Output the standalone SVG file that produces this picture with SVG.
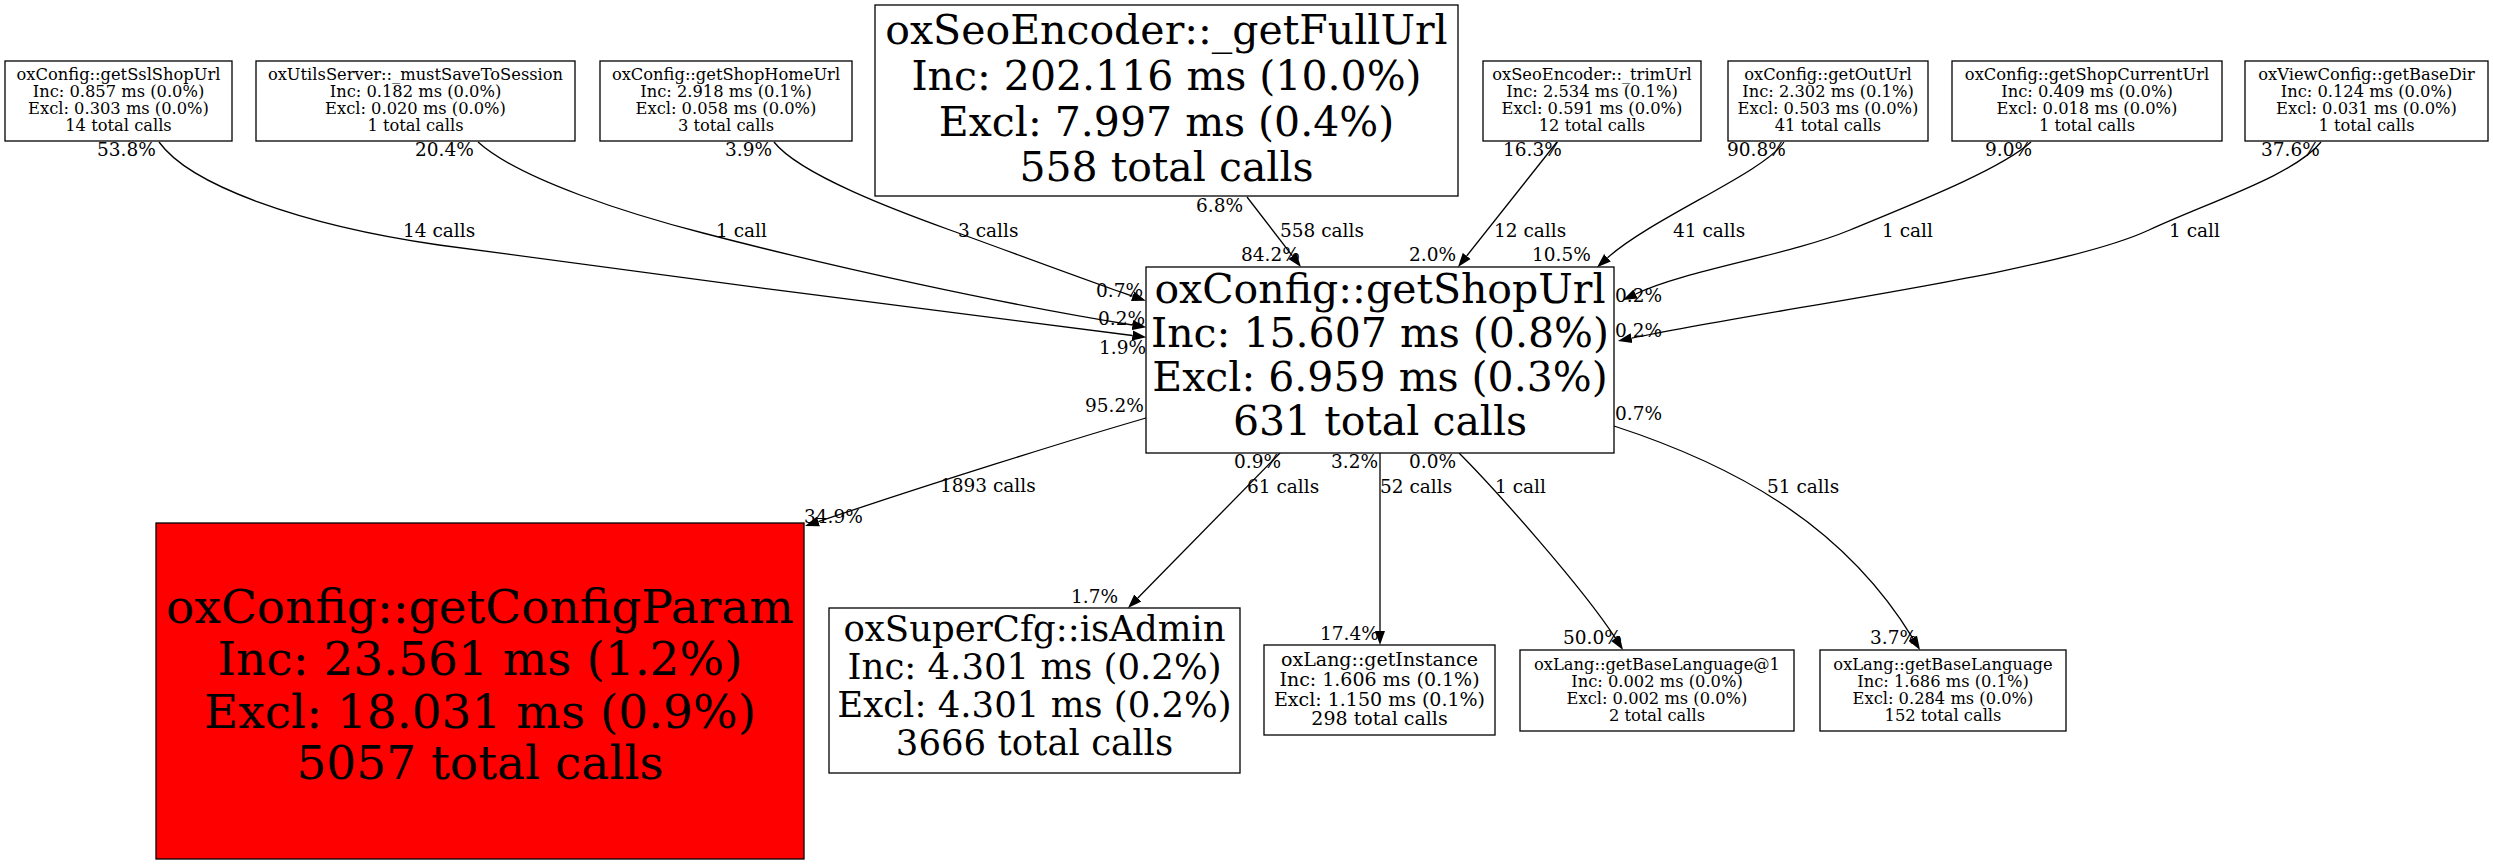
<svg xmlns="http://www.w3.org/2000/svg" width="2493" height="864" viewBox="0 0 2493 864">
<style>
.box{fill:#ffffff;stroke:#000000;stroke-width:1.3}
.hot{fill:#ff0000;stroke:#000000;stroke-width:1.3}
.t{font-family:"DejaVu Serif","Liberation Serif",serif;fill:#000000;text-anchor:middle}
.s{font-size:16.3px}
.m{font-size:19px}
.lbl{font-family:"DejaVu Serif","Liberation Serif",serif;font-size:18.5px;fill:#000000}
.edge{fill:none;stroke:#000000;stroke-width:1.3;marker-end:url(#arr)}
</style>
<defs>
<marker id="arr" markerUnits="userSpaceOnUse" markerWidth="16" markerHeight="12" viewBox="0 -6 16 12" refX="0" refY="0" orient="auto">
<path d="M0,-5 L14,0 L0,5 z" fill="#000000"/>
</marker>
</defs>
<rect width="2493" height="864" fill="#ffffff"/>

<g id="connectors">
<path class="edge" d="M159,142 C190,185 300,225 439,245 C639,273 932,310 1132.4,335.5"/>
<path class="edge" d="M478,142 C520,180 633,215 703,233 C833,267 1002,304 1132.5,325"/>
<path class="edge" d="M774,142 C800,175 900,212 950,230 C1000,248 1088,281 1132.6,296.2"/>
<path class="edge" d="M1247,197 L1292.4,255.9"/>
<path class="edge" d="M1557,142 L1466.7,256"/>
<path class="edge" d="M1784,142 C1765,172 1652,218 1607.5,257.8"/>
<path class="edge" d="M2031,142 C2000,170 1910,205 1850,230 C1790,255 1686,270 1635.6,294"/>
<path class="edge" d="M2321,142 C2295,175 2209,202 2149,230 C2059,272 1781.6,307 1631.6,338.2"/>
<path class="edge" d="M1146,418 C1070,440 930,484 818.3,521.6"/>
<path class="edge" d="M1280,453 L1137.8,598"/>
<path class="edge" d="M1380,453 L1380,631"/>
<path class="edge" d="M1459,453 C1494,488 1583,588 1615.4,638.2"/>
<path class="edge" d="M1614,426 C1740,467 1845,527.5 1912.7,638.1"/>

<text class="lbl" x="97" y="156">53.8%</text>
<text class="lbl" x="415" y="156">20.4%</text>
<text class="lbl" x="725" y="156">3.9%</text>
<text class="lbl" x="403" y="237">14 calls</text>
<text class="lbl" x="716" y="237">1 call</text>
<text class="lbl" x="958" y="237">3 calls</text>
<text class="lbl" x="1096" y="297">0.7%</text>
<text class="lbl" x="1098" y="325">0.2%</text>
<text class="lbl" x="1099" y="354">1.9%</text>
<text class="lbl" x="1196" y="212">6.8%</text>
<text class="lbl" x="1280" y="237">558 calls</text>
<text class="lbl" x="1241" y="261">84.2%</text>
<text class="lbl" x="1503" y="156">16.3%</text>
<text class="lbl" x="1494" y="237">12 calls</text>
<text class="lbl" x="1409" y="261">2.0%</text>
<text class="lbl" x="1727" y="156">90.8%</text>
<text class="lbl" x="1673" y="237">41 calls</text>
<text class="lbl" x="1532" y="261">10.5%</text>
<text class="lbl" x="1985" y="156">9.0%</text>
<text class="lbl" x="1882" y="237">1 call</text>
<text class="lbl" x="1615" y="302">0.2%</text>
<text class="lbl" x="2261" y="156">37.6%</text>
<text class="lbl" x="2169" y="237">1 call</text>
<text class="lbl" x="1615" y="337">0.2%</text>
<text class="lbl" x="1085" y="412">95.2%</text>
<text class="lbl" x="940" y="492">1893 calls</text>
<text class="lbl" x="804" y="523">34.9%</text>
<text class="lbl" x="1234" y="468">0.9%</text>
<text class="lbl" x="1247" y="493">61 calls</text>
<text class="lbl" x="1071" y="603">1.7%</text>
<text class="lbl" x="1331" y="468">3.2%</text>
<text class="lbl" x="1380" y="493">52 calls</text>
<text class="lbl" x="1320" y="640">17.4%</text>
<text class="lbl" x="1409" y="468">0.0%</text>
<text class="lbl" x="1495" y="493">1 call</text>
<text class="lbl" x="1563" y="644">50.0%</text>
<text class="lbl" x="1615" y="420">0.7%</text>
<text class="lbl" x="1767" y="493">51 calls</text>
<text class="lbl" x="1870" y="644">3.7%</text>
</g>

<g id="node-getSslShopUrl">
<rect class="box" x="5" y="61" width="227" height="80"/>
<text class="t s" x="118.5" y="79.5">oxConfig::getSslShopUrl</text>
<text class="t s" x="118.5" y="96.5">Inc: 0.857 ms (0.0%)</text>
<text class="t s" x="118.5" y="113.5">Excl: 0.303 ms (0.0%)</text>
<text class="t s" x="118.5" y="130.5">14 total calls</text>
</g>
<g id="node-mustSaveToSession">
<rect class="box" x="256" y="61" width="319" height="80"/>
<text class="t s" x="415.5" y="79.5">oxUtilsServer::_mustSaveToSession</text>
<text class="t s" x="415.5" y="96.5">Inc: 0.182 ms (0.0%)</text>
<text class="t s" x="415.5" y="113.5">Excl: 0.020 ms (0.0%)</text>
<text class="t s" x="415.5" y="130.5">1 total calls</text>
</g>
<g id="node-getShopHomeUrl">
<rect class="box" x="600" y="61" width="252" height="80"/>
<text class="t s" x="726" y="79.5">oxConfig::getShopHomeUrl</text>
<text class="t s" x="726" y="96.5">Inc: 2.918 ms (0.1%)</text>
<text class="t s" x="726" y="113.5">Excl: 0.058 ms (0.0%)</text>
<text class="t s" x="726" y="130.5">3 total calls</text>
</g>
<g id="node-getFullUrl">
<rect class="box" x="875" y="5" width="583" height="191"/>
<text class="t" style="font-size:41px" x="1166.5" y="44">oxSeoEncoder::_getFullUrl</text>
<text class="t" style="font-size:41px" x="1166.5" y="90">Inc: 202.116 ms (10.0%)</text>
<text class="t" style="font-size:41px" x="1166.5" y="135.5">Excl: 7.997 ms (0.4%)</text>
<text class="t" style="font-size:41px" x="1166.5" y="180.5">558 total calls</text>
</g>
<g id="node-trimUrl">
<rect class="box" x="1483" y="61" width="218" height="80"/>
<text class="t s" x="1592" y="79.5">oxSeoEncoder::_trimUrl</text>
<text class="t s" x="1592" y="96.5">Inc: 2.534 ms (0.1%)</text>
<text class="t s" x="1592" y="113.5">Excl: 0.591 ms (0.0%)</text>
<text class="t s" x="1592" y="130.5">12 total calls</text>
</g>
<g id="node-getOutUrl">
<rect class="box" x="1728" y="61" width="200" height="80"/>
<text class="t s" x="1828" y="79.5">oxConfig::getOutUrl</text>
<text class="t s" x="1828" y="96.5">Inc: 2.302 ms (0.1%)</text>
<text class="t s" x="1828" y="113.5">Excl: 0.503 ms (0.0%)</text>
<text class="t s" x="1828" y="130.5">41 total calls</text>
</g>
<g id="node-getShopCurrentUrl">
<rect class="box" x="1952" y="61" width="270" height="80"/>
<text class="t s" x="2087" y="79.5">oxConfig::getShopCurrentUrl</text>
<text class="t s" x="2087" y="96.5">Inc: 0.409 ms (0.0%)</text>
<text class="t s" x="2087" y="113.5">Excl: 0.018 ms (0.0%)</text>
<text class="t s" x="2087" y="130.5">1 total calls</text>
</g>
<g id="node-getBaseDir">
<rect class="box" x="2245" y="61" width="243" height="80"/>
<text class="t s" x="2366.5" y="79.5">oxViewConfig::getBaseDir</text>
<text class="t s" x="2366.5" y="96.5">Inc: 0.124 ms (0.0%)</text>
<text class="t s" x="2366.5" y="113.5">Excl: 0.031 ms (0.0%)</text>
<text class="t s" x="2366.5" y="130.5">1 total calls</text>
</g>
<g id="node-getShopUrl">
<rect class="box" x="1146" y="267" width="468" height="186"/>
<text class="t" style="font-size:41px" x="1380" y="303">oxConfig::getShopUrl</text>
<text class="t" style="font-size:41px" x="1380" y="347">Inc: 15.607 ms (0.8%)</text>
<text class="t" style="font-size:41px" x="1380" y="391">Excl: 6.959 ms (0.3%)</text>
<text class="t" style="font-size:41px" x="1380" y="434.5">631 total calls</text>
</g>
<g id="node-getConfigParam">
<rect class="hot" x="156" y="523" width="648" height="336"/>
<text class="t" style="font-size:47px" x="480" y="623">oxConfig::getConfigParam</text>
<text class="t" style="font-size:47px" x="480" y="675">Inc: 23.561 ms (1.2%)</text>
<text class="t" style="font-size:47px" x="480" y="728">Excl: 18.031 ms (0.9%)</text>
<text class="t" style="font-size:47px" x="480" y="779">5057 total calls</text>
</g>
<g id="node-isAdmin">
<rect class="box" x="829" y="608" width="411" height="165"/>
<text class="t" style="font-size:35.5px" x="1034.5" y="641">oxSuperCfg::isAdmin</text>
<text class="t" style="font-size:35.5px" x="1034.5" y="679">Inc: 4.301 ms (0.2%)</text>
<text class="t" style="font-size:35.5px" x="1034.5" y="717">Excl: 4.301 ms (0.2%)</text>
<text class="t" style="font-size:35.5px" x="1034.5" y="755">3666 total calls</text>
</g>
<g id="node-getInstance">
<rect class="box" x="1264" y="645" width="231" height="90"/>
<text class="t m" x="1379.5" y="665.5">oxLang::getInstance</text>
<text class="t m" x="1379.5" y="685.5">Inc: 1.606 ms (0.1%)</text>
<text class="t m" x="1379.5" y="705.5">Excl: 1.150 ms (0.1%)</text>
<text class="t m" x="1379.5" y="725">298 total calls</text>
</g>
<g id="node-getBaseLanguage1">
<rect class="box" x="1520" y="650" width="274" height="81"/>
<text class="t s" x="1657" y="669.5">oxLang::getBaseLanguage@1</text>
<text class="t s" x="1657" y="686.5">Inc: 0.002 ms (0.0%)</text>
<text class="t s" x="1657" y="703.5">Excl: 0.002 ms (0.0%)</text>
<text class="t s" x="1657" y="720.5">2 total calls</text>
</g>
<g id="node-getBaseLanguage">
<rect class="box" x="1820" y="650" width="246" height="81"/>
<text class="t s" x="1943" y="669.5">oxLang::getBaseLanguage</text>
<text class="t s" x="1943" y="686.5">Inc: 1.686 ms (0.1%)</text>
<text class="t s" x="1943" y="703.5">Excl: 0.284 ms (0.0%)</text>
<text class="t s" x="1943" y="720.5">152 total calls</text>
</g>
</svg>
